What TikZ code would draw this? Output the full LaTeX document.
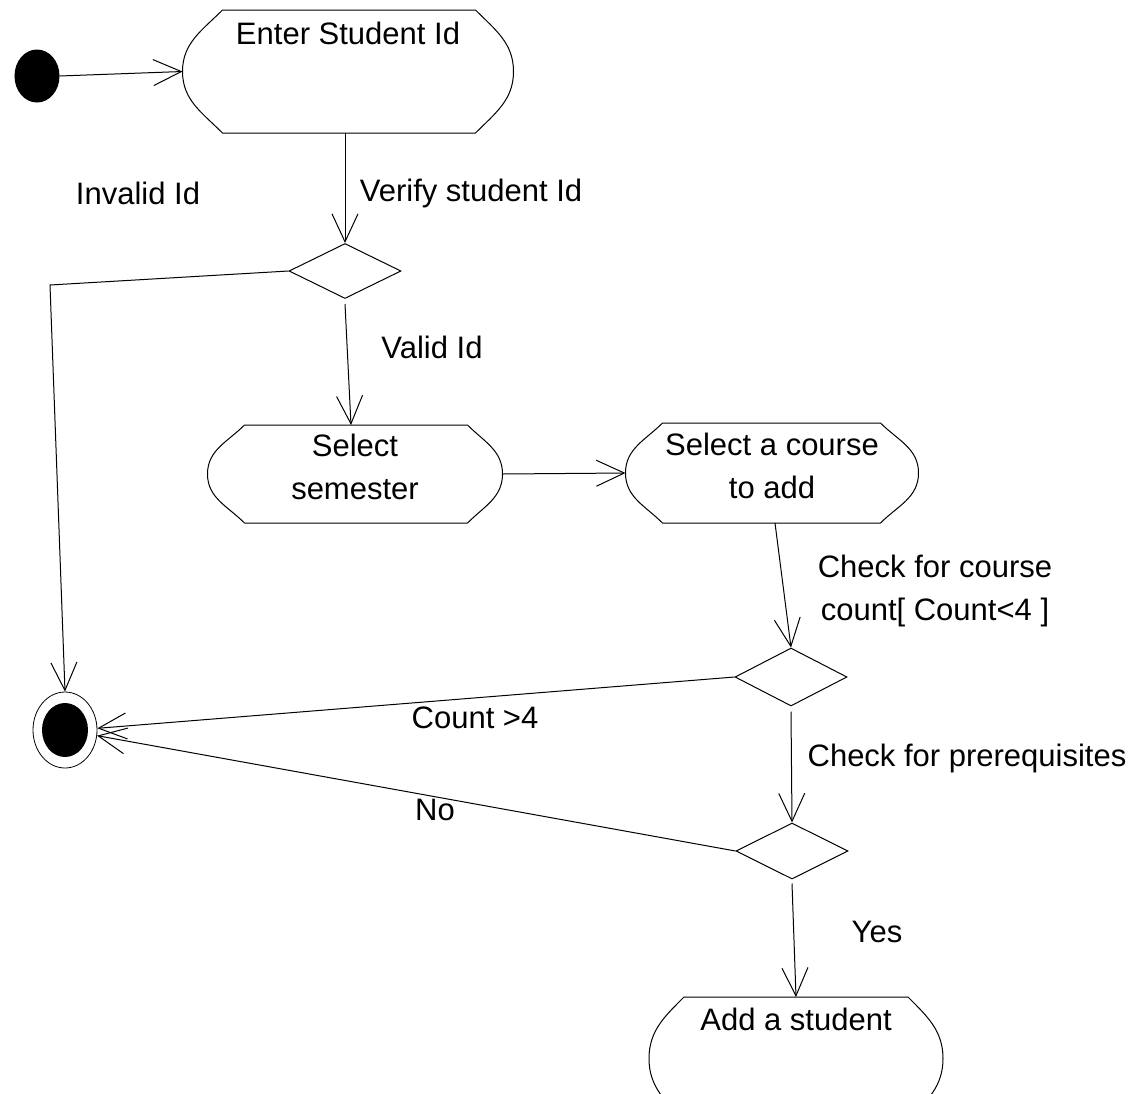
\documentclass[tikz,border=0pt]{standalone}
\usepackage{fontspec}
\setmainfont{Liberation Sans}
\usetikzlibrary{arrows.meta,shapes.geometric}
\newcommand\actout[3]{%
  \draw ([xshift=#2]#1.north west) -- ([xshift=-#3]#1.north east)
    to[out=-45,in=90] (#1.east) to[out=-90,in=45] ([xshift=-#3]#1.south east)
    -- ([xshift=#2]#1.south west)
    to[out=135,in=-90] (#1.west) to[out=90,in=-135] ([xshift=#2]#1.north west) -- cycle;}
\tikzset{
  every node/.style={font=\fontsize{31}{43}\selectfont},
  act/.style={rectangle, inner sep=0pt, align=center},
  dec/.style={diamond, draw, inner sep=0pt, minimum width=112pt},
  arr/.style={-{Straight Barb[length=28pt,width=26pt]}},
  lbl/.style={inner sep=0pt, align=center}
}
\begin{document}
\begin{tikzpicture}[x=1pt,y=1pt,line width=1pt]
\fill[white] (0,0) rectangle (1135,-1093);
\clip (0,0) rectangle (1135,-1093);
% nodes
\node[ellipse, fill=black, draw, minimum width=44pt, minimum height=52pt, inner sep=0pt] (start) at (37,-76) {};
\node[act, anchor=north, minimum width=330pt, text height=34pt, text depth=88pt] (enter) at (348,-10) {Enter Student Id};
\node[dec, minimum height=55pt] (d1) at (345,-271) {};
\node[act, anchor=north, minimum width=294pt, minimum height=97pt] (sem) at (355,-425) {Select\\semester\vspace{14pt}};
\node[act, anchor=north, minimum width=292pt, minimum height=99pt] (course) at (772,-423) {Select a course\\to add\vspace{14pt}};
\node[dec, minimum height=58pt] (d2) at (791,-677) {};
\node[dec, minimum height=56pt] (d3) at (792,-851) {};
\node[act, anchor=north, minimum width=293pt, text height=33pt, text depth=89pt] (add) at (796,-997) {Add a student};
\node[ellipse, draw, minimum width=64pt, minimum height=76pt, inner sep=0pt, line width=0.8pt] (fin) at (65,-730) {};
\node[ellipse, fill=black, minimum width=46pt, minimum height=54pt, inner sep=0pt] (finin) at (fin.center) {};
% outlines
\actout{enter}{40pt}{38pt}
\actout{sem}{37pt}{35pt}
\actout{course}{37pt}{38pt}
\actout{add}{35pt}{35pt}
% labels
\node[lbl] (linvalid) at (138,-193) {Invalid Id};
\node[lbl] (lverify) at (471,-193) {Verify student Id};
\node[lbl] (lvalid) at (432,-347) {Valid Id};
\node[lbl] (lcheck) at (935,-591) {Check for course\\count[ Count{<}4 ]};
\node[lbl] (lcount) at (475,-718) {Count >4};
\node[lbl] (lprereq) at (967,-758) {Check for prerequisites};
\node[lbl] (lno) at (435,-810) {No};
\node[lbl] (lyes) at (877,-932) {Yes};
% connectors
\coordinate (c1) at (50,-285);
\draw[arr] (start.east) -- (enter.west);
\draw[arr] (enter.south -| d1.north) -- (d1.north);
\draw[arr] (d1.west) -- (c1) -- (fin.north);
\draw[arr] ([yshift=-5pt]d1.south) -- ([xshift=-4pt]sem.north);
\draw[arr] (sem.east) -- (course.west);
\draw[arr] ([xshift=3pt]course.south) -- (d2.north);
\draw[arr] (d2.west) -- (fin.3);
\draw[arr] ([yshift=-5pt]d2.south) -- (d3.north);
\draw[arr] (d3.west) -- (fin.-10);
\draw[arr] ([yshift=-4pt]d3.south) -- (add.north);
\end{tikzpicture}
\end{document}
